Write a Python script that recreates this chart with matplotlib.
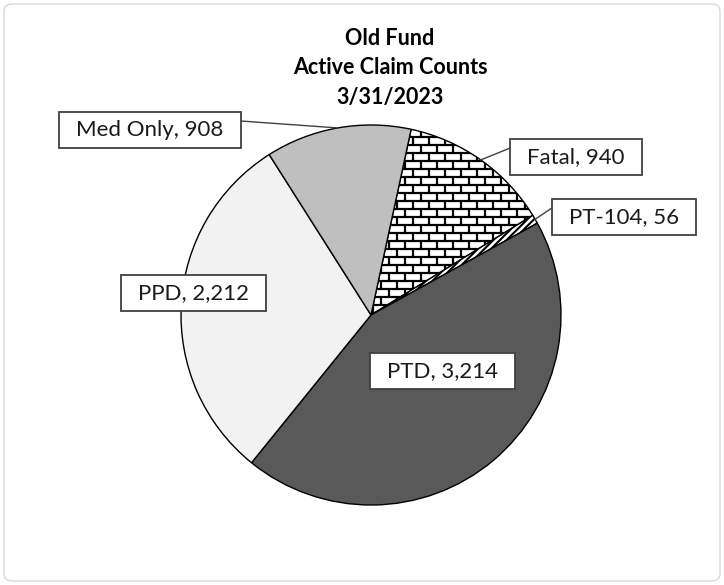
import numpy as np
import matplotlib
matplotlib.use("Agg")
import matplotlib.pyplot as plt
from matplotlib.patches import Rectangle, FancyBboxPatch
from matplotlib.collections import LineCollection

plt.rcParams['font.family'] = ['Lato', 'DejaVu Sans']
plt.rcParams['hatch.linewidth'] = 1.5

# data, clockwise from the first slice
names = ["Fatal", "PT-104", "PTD", "PPD", "Med Only"]
counts = [940, 56, 3214, 2212, 908]
colors = ["white", "white", "#595959", "#f2f2f2", "#bfbfbf"]
title = "Old Fund\nActive Claim Counts\n3/31/2023"

# label box centres in pixels (from top-left) and whether a leader line is drawn
label_pos = [(576, 157), (624, 217), (442, 371), (193, 293), (150, 130)]
leader = [True, True, False, False, True]

W, H = 724, 585
fig = plt.figure(figsize=(W / 100, H / 100), dpi=100)
fig.patch.set_facecolor("white")

# rounded outer frame
frame = FancyBboxPatch((4 / W, 4 / H), 1 - 8 / W, 1 - 8 / H,
                       boxstyle="round,pad=0,rounding_size=0.012",
                       transform=fig.transFigure, facecolor="none",
                       edgecolor="#d9d9d9", linewidth=1, zorder=-1)
fig.patches.append(frame)

cx, cy, r = 371, 315, 190
ax = fig.add_axes([(cx - r) / W, (H - cy - r) / H, 2 * r / W, 2 * r / H])
ax.axis("off")

start = 90 - 12.2
wedges, _ = ax.pie(counts, colors=colors, startangle=start, counterclock=False,
                   radius=1, wedgeprops=dict(edgecolor="black", linewidth=1.0))
ax.set_xlim(-1, 1)
ax.set_ylim(-1, 1)

# brick pattern on Fatal
h = 8 / r
w = 16 / r
segs = []
rows = np.arange(-1, 1 + h, h)
for i, y in enumerate(rows):
    segs.append([(-1, y), (1, y)])
    off = (i % 2) * w / 2
    for x in np.arange(-1 + off, 1 + w, w):
        segs.append([(x, y), (x, y + h)])
bricks = LineCollection(segs, colors="black", linewidths=1.6, zorder=2)
ax.add_collection(bricks)
bricks.set_clip_path(wedges[0])

# stripes on PT-104
wedges[1].set_hatch("/////")

# title
fig.text(390 / W, 1 - 68 / H, title, ha="center", va="center", fontsize=15.5,
         fontweight="bold", linespacing=1.5, color="black")

# labels
fig.canvas.draw()
renderer = fig.canvas.get_renderer()
total = sum(counts)
ang = start
for k, (nm, c) in enumerate(zip(names, counts)):
    span = c / total * 360
    mid = np.deg2rad(ang - span / 2)
    ang -= span
    px, py = label_pos[k]
    lab = f"{nm}, {c:,}"
    t = fig.text(px / W, 1 - py / H, lab, ha="center", va="center",
                 fontsize=16, color="#1a1a1a", zorder=6)
    bb = t.get_window_extent(renderer)
    mx, my = 17, 8
    x0, y0 = bb.x0 - mx, bb.y0 - my
    bw, bh = bb.width + 2 * mx, bb.height + 2 * my
    fig.patches.append(Rectangle((x0 / W, y0 / H), bw / W, bh / H,
                                 transform=fig.transFigure, facecolor="white",
                                 edgecolor="#404040", linewidth=1.3, zorder=5))
    if leader[k]:
        ex = cx + r * np.cos(mid)
        ey = (H - cy) + r * np.sin(mid)
        if ex < x0:
            sx = x0
        else:
            sx = x0 + bw
        sy = y0 + bh * 0.75
        fig.add_artist(plt.Line2D([sx / W, ex / W], [sy / H, ey / H],
                                  transform=fig.transFigure, color="#404040",
                                  linewidth=1.0, zorder=4))

fig.savefig("out.png", dpi=100)
